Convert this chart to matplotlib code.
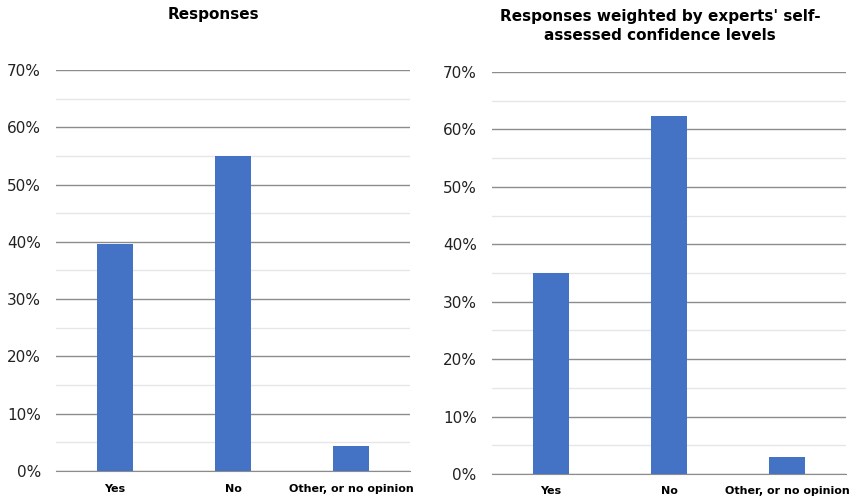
import matplotlib.pyplot as plt
from matplotlib.ticker import MultipleLocator, FuncFormatter

categories = ['Yes', 'No', 'Other, or no opinion']
responses = [39.6, 55.0, 4.4]
weighted = [35.0, 62.3, 3.0]
titles = ['Responses', "Responses weighted by experts' self-\nassessed confidence levels"]

bar_color = '#4472c4'

fig = plt.figure(figsize=(8.53, 4.97), dpi=100)
ax1 = fig.add_axes([0.0657, 0.0523, 0.415, 0.807])
ax2 = fig.add_axes([0.5768, 0.0463, 0.415, 0.809])


def draw(ax, values):
    x = range(len(categories))
    ax.bar(x, values, width=0.31, color=bar_color, zorder=3)
    ax.set_xlim(-0.5, 2.5)
    ax.set_ylim(0, 70)
    ax.yaxis.set_major_locator(MultipleLocator(10))
    ax.yaxis.set_minor_locator(MultipleLocator(5))
    ax.yaxis.set_major_formatter(FuncFormatter(lambda v, p: '%d%%' % v))
    ax.grid(axis='y', which='major', color='#8c8c8c', linewidth=1.0, zorder=0)
    ax.grid(axis='y', which='minor', color='#e6e6e6', linewidth=1.0, zorder=0)
    for s in ['top', 'right', 'left']:
        ax.spines[s].set_visible(False)
    ax.spines['bottom'].set_color('#8c8c8c')
    ax.tick_params(axis='y', which='both', length=0, labelsize=11, colors='#222222', pad=11)
    ax.tick_params(axis='x', length=0, pad=9)
    ax.set_xticks(list(x))
    ax.set_xticklabels(categories, fontsize=8, fontweight='bold')


draw(ax1, responses)
draw(ax2, weighted)

# titles placed in figure coords
fig.text(213 / 853, 1 - 15 / 497, titles[0], ha='center', va='center',
         fontsize=11, fontweight='bold')
fig.text(660 / 853, 1 - 26 / 497, titles[1], ha='center', va='center',
         fontsize=11, fontweight='bold', linespacing=1.35)

plt.savefig('out.png', dpi=100)
